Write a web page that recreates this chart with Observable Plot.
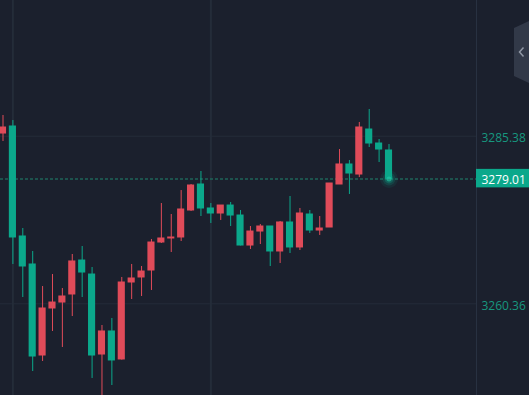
<!DOCTYPE html>
<html>
<head>
<meta charset="utf-8">
<script src="https://cdn.jsdelivr.net/npm/d3@7"></script>
<script src="https://cdn.jsdelivr.net/npm/@observablehq/plot@0.6"></script>
<style>
  html, body { margin: 0; padding: 0; background: #1b202d; overflow: hidden; }
  #chart { width: 529px; height: 395px; }
</style>
</head>
<body>
<div id="chart"></div>
<script>
// Candle data (index 0 = leftmost, partly cut off)
const opens  = [3285.78, 3286.83, 3270.41, 3266.23, 3252.64, 3259.66, 3260.55, 3261.75, 3266.82, 3264.73,
                3252.79, 3256.23, 3252.05, 3263.54, 3264.29, 3265.33, 3269.51, 3270.11, 3270.26, 3274.29,
                3278.17, 3274.59, 3273.84, 3275.03, 3273.54, 3269.06, 3271.15, 3271.90, 3268.17, 3272.50,
                3268.77, 3273.69, 3271.30, 3271.75, 3278.17, 3281.16, 3279.66, 3286.38, 3284.29, 3283.25];
const highs  = [3288.47, 3287.72, 3271.60, 3268.17, 3262.94, 3264.73, 3262.64, 3267.72, 3268.91, 3265.78,
                3257.12, 3258.17, 3264.29, 3266.23, 3265.93, 3269.96, 3275.33, 3273.69, 3277.27, 3278.17,
                3280.11, 3275.33, 3275.03, 3275.48, 3274.29, 3271.90, 3272.20, 3271.90, 3272.65, 3276.38,
                3274.59, 3274.29, 3273.39, 3278.32, 3283.39, 3281.75, 3287.43, 3289.37, 3284.89, 3284.14];
const lows   = [3284.59, 3266.23, 3261.30, 3250.25, 3251.75, 3256.23, 3253.84, 3258.46, 3261.30, 3249.21,
                3246.40, 3248.16, 3251.95, 3261.00, 3261.45, 3262.35, 3269.36, 3268.02, 3269.66, 3274.14,
                3273.39, 3272.35, 3272.80, 3271.90, 3269.00, 3268.47, 3269.21, 3265.93, 3266.38, 3267.87,
                3268.32, 3270.86, 3270.56, 3271.75, 3278.17, 3276.68, 3279.21, 3283.69, 3281.45, 3279.01];
const closes = [3286.68, 3270.26, 3265.93, 3252.49, 3259.66, 3260.55, 3261.45, 3266.68, 3265.03, 3252.64,
                3256.23, 3251.90, 3263.54, 3264.14, 3265.18, 3269.51, 3270.11, 3270.26, 3274.44, 3278.02,
                3274.59, 3273.84, 3275.03, 3273.54, 3269.06, 3271.15, 3271.90, 3268.17, 3272.50, 3268.77,
                3273.84, 3271.30, 3271.60, 3278.32, 3281.16, 3279.81, 3286.68, 3284.29, 3283.39, 3279.01];
const yTicks = [3285.38, 3260.36];
const lastPrice = [3279.01];
const gridIndex = [1, 21];

const UP = "#e04b59";     // rising candles (red)
const DOWN = "#0ba88b";   // falling candles (teal)
const GRID = "#242c39";

const candles = opens.map((o, i) => ({
  i, open: o, high: highs[i], low: lows[i], close: closes[i],
  color: closes[i] >= o ? UP : DOWN
}));

const xDomain = [-0.2526, 47.84];
const yDomain = [3246.67, 3305.64];
const lastIdx = candles.length - 1;

const plot = Plot.plot({
  width: 529,
  height: 395,
  marginLeft: 0,
  marginRight: 53,
  marginTop: 0,
  marginBottom: 0,
  style: { background: "#1b202d", fontFamily: "'Open Sans', sans-serif", overflow: "hidden" },
  x: { domain: xDomain, axis: null },
  y: { domain: yDomain, axis: null },
  marks: [
    Plot.ruleY(yTicks, { stroke: GRID, strokeWidth: 1 }),
    Plot.ruleX(gridIndex, { stroke: GRID, strokeWidth: 2 }),
    Plot.ruleX([xDomain[1]], { stroke: "#283141", strokeWidth: 1 }),
    Plot.ruleY(lastPrice, { stroke: "#1f6358", strokeWidth: 1.5, strokeDasharray: "3,2" }),
    Plot.dot([candles[lastIdx]], { x: "i", y: "close", r: 9, fill: DOWN, fillOpacity: 0.1, stroke: null }),
    Plot.dot([candles[lastIdx]], { x: "i", y: "close", r: 6.5, fill: DOWN, fillOpacity: 0.18, stroke: null }),
    Plot.dot([candles[lastIdx]], { x: "i", y: "close", r: 4.5, fill: DOWN, fillOpacity: 0.3, stroke: null }),
    Plot.ruleX(candles, { x: "i", y1: "low", y2: "high", stroke: "color", strokeWidth: 1 }),
    Plot.rect(candles, {
      x1: d => d.i - 0.36, x2: d => d.i + 0.36,
      y1: "open", y2: "close", fill: "color",
      insetTop: -0.5, insetBottom: -0.5
    }),
    Plot.dot([candles[lastIdx]], { x: "i", y: "close", r: 2.5, fill: "#2ad0ac", fillOpacity: 0.55, stroke: null }),
    Plot.axisY(yTicks, {
      anchor: "right", tickSize: 0, tickPadding: 5, label: null,
      tickFormat: d => d.toFixed(2), fill: "#17977f", fontSize: 12, dy: 2
    }),
    Plot.rect(lastPrice, {
      x1: xDomain[1], x2: xDomain[1] + 10, y1: d => d, y2: d => d,
      insetTop: -9.5, insetBottom: -9, fill: "#0ba88b"
    }),
    Plot.text(lastPrice, {
      x: xDomain[1], y: d => d, text: d => d.toFixed(2), dx: 5, dy: 1,
      textAnchor: "start", fill: "#ffffff", fontSize: 12
    })
  ]
});

document.getElementById("chart").appendChild(plot);

// Side panel tab (UI chrome) at the top right
const svg = d3.select(plot);
svg.append("path")
  .attr("d", "M529,21 L514,28 L514,76 L529,83 Z")
  .attr("fill", "#323948");
svg.append("path")
  .attr("d", "M523.5,47.5 L519.5,52 L523.5,56.5")
  .attr("fill", "none")
  .attr("stroke", "#9198a5")
  .attr("stroke-width", 1.5);
</script>
</body>
</html>
